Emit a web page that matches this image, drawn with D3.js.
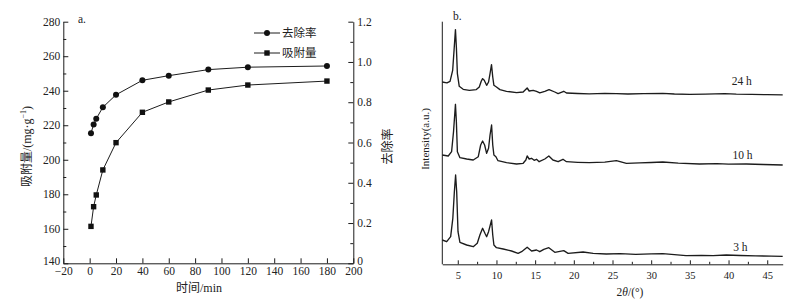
<!DOCTYPE html>
<html>
<head>
<meta charset="utf-8">
<script src="https://cdn.jsdelivr.net/npm/d3@7"></script>
<style>
  body { margin: 0; background: #fff; }
  svg { display: block; }
  text { fill: #222; }
</style>
</head>
<body>
<script>
// Datos del panel a: tiempo de contacto, eficiencia y capacidad de adsorción
const tiempos = [1, 3, 5, 10, 20, 40, 60, 90, 120, 180];
const tasaRemocion = [0.646, 0.690, 0.718, 0.775, 0.837, 0.909, 0.932, 0.962, 0.974, 0.980];
const capacidad = [161.4, 172.8, 179.6, 194.1, 209.9, 227.5, 233.5, 240.4, 243.3, 245.6];

const ticksTiempo = [-20, 0, 20, 40, 60, 80, 100, 120, 140, 160, 180, 200];
const ticksCapacidad = [140, 160, 180, 200, 220, 240, 260, 280];
const ticksRemocion = [0, 0.2, 0.4, 0.6, 0.8, 1.0, 1.2];

// Datos del panel b: difractogramas [2θ, intensidad] (ya desplazados)
const xrd24h = [[3.0,182.3],[3.6,181.5],[4.0,183],[4.34,194],[4.52,214],[4.7,234.7],[4.82,217],[4.95,190.7],[5.19,178],[5.7,175],[6.5,174],[7.4,174.7],[7.78,177.3],[8.03,183],[8.21,185.7],[8.42,184],[8.73,179],[8.98,182.3],[9.17,190.7],[9.36,199.7],[9.52,187.3],[9.67,179],[10.0,177.3],[10.45,174.7],[11.3,173],[12.6,171.7],[13.45,172.3],[13.97,176.3],[14.23,173.3],[14.74,174],[15.18,173],[15.6,171.5],[16.25,173],[16.8,174.7],[17.54,172.3],[17.97,170.7],[18.7,173],[19.05,171.3],[20.5,170.8],[22.0,170.4],[24.0,170.9],[25.5,170.6],[27.0,170.3],[29.0,170.6],[31.5,171.0],[33.0,170.3],[35.0,170.0],[37.0,170.2],[39.5,170.6],[41.0,170.1],[43.0,169.9],[45.0,169.6],[47.0,169.5]];
const xrd10h = [[3.0,109.3],[3.77,108.3],[4.2,112.6],[4.45,132.6],[4.7,160],[4.82,142.6],[4.95,112.6],[5.28,106.6],[6.15,105.3],[7.0,104.3],[7.65,107.6],[7.96,119.3],[8.21,123.3],[8.47,119.3],[8.73,111],[8.98,116],[9.17,129.3],[9.37,139.3],[9.52,119.3],[9.67,109.3],[9.93,107.6],[10.2,103.6],[11.3,101.6],[12.6,100.3],[13.45,101],[13.8,104.3],[13.97,108.3],[14.23,105.3],[14.54,106],[14.87,104],[15.18,105],[15.52,102.6],[16.25,105.3],[16.77,108.3],[17.3,104.3],[17.97,102.6],[18.6,105],[19.05,102.6],[20.5,102],[22.0,101.6],[24.0,102.2],[25.5,103.6],[26.8,101],[28.5,101.5],[30.0,101.8],[31.5,102.3],[33.5,101.2],[36.25,100.3],[38.5,100.6],[40.0,100.2],[42.3,100.3],[44.5,99.8],[47.0,99.3]];
const xrd3h = [[3.0,24.3],[3.57,22.6],[4.08,27.6],[4.36,46],[4.56,72.6],[4.72,89.3],[4.86,72.6],[5.03,32.6],[5.28,22],[6.15,19.3],[7.0,17.6],[7.52,21],[7.86,29.3],[8.21,36],[8.51,31],[8.73,27.6],[8.98,32.6],[9.17,38.3],[9.37,44.3],[9.52,29.3],[9.67,19.3],[10.0,16.6],[10.87,15.3],[11.95,13.3],[12.8,11],[13.25,12.6],[13.97,17],[14.54,13.3],[15.18,14.3],[15.6,12.6],[16.12,15],[16.77,16.6],[17.54,12],[18.7,13.6],[19.26,11],[21.2,12.3],[22.5,11],[24.2,10.3],[26.0,10.6],[28.0,10],[30.0,10.4],[31.5,10.6],[33.0,9.6],[34.5,8.6],[36.5,8.8],[38.0,8.6],[39.7,9.3],[41.5,8.8],[43.5,8.4],[45.5,8.2],[47.0,8]];
const nombresSeries = ["24 h", "10 h", "3 h"];
const ticks2theta = [5, 10, 15, 20, 25, 30, 35, 40, 45];

// Constantes de la visualización
const WIDTH = 810;
const HEIGHT = 306;
const SERIF = "'Liberation Serif', 'Times New Roman', serif";
const CJK = "'Noto Sans CJK SC', sans-serif";
const TINTA = "#1c1c1c";

const svg = d3.select("body")
  .append("svg")
  .attr("width", WIDTH)
  .attr("height", HEIGHT);

svg.append("rect").attr("width", WIDTH).attr("height", HEIGHT).attr("fill", "#fff");

// ---------------- Panel a ----------------
const A = { left: 63.3, right: 353.3, top: 21.7, bottom: 263.3 };

const escalaTiempo = d3.scaleLinear().domain([-20, 200]).range([A.left, A.right]);
const escalaCap = d3.scaleLinear().domain([140, 280]).range([A.bottom, A.top]);
const escalaRem = d3.scaleLinear().domain([0, 1.2]).range([A.bottom, A.top]);

const panelA = svg.append("g");

function estilizarEje(g, tam) {
  g.select(".domain").attr("stroke", TINTA).attr("stroke-width", 1);
  g.selectAll(".tick line").attr("stroke", TINTA);
  g.selectAll("text").attr("font-family", SERIF).attr("font-size", tam).attr("fill", "#222");
}

// eje X
panelA.append("g")
  .attr("transform", `translate(0, ${A.bottom})`)
  .call(d3.axisBottom(escalaTiempo).tickValues(ticksTiempo).tickSizeInner(-5).tickSizeOuter(0).tickPadding(4))
  .call(g => estilizarEje(g, 11.5));

// eje Y izquierdo (menores + mayores)
panelA.append("g")
  .attr("transform", `translate(${A.left}, 0)`)
  .call(d3.axisLeft(escalaCap).tickValues(d3.range(150, 280, 20)).tickSizeInner(-3).tickSizeOuter(0).tickFormat(""))
  .call(g => { g.select(".domain").remove(); g.selectAll("line").attr("stroke", TINTA); });
panelA.append("g")
  .attr("transform", `translate(${A.left}, 0)`)
  .call(d3.axisLeft(escalaCap).tickValues(ticksCapacidad).tickSizeInner(-5).tickSizeOuter(0).tickPadding(3))
  .call(g => estilizarEje(g, 11.5))
  .call(g => g.selectAll(".tick text").filter(d => d === 140).attr("dy", "0.1em"));

// eje Y derecho
panelA.append("g")
  .attr("transform", `translate(${A.right}, 0)`)
  .call(d3.axisRight(escalaRem).tickValues(d3.range(0.1, 1.2, 0.2)).tickSizeInner(-3).tickSizeOuter(0).tickFormat(""))
  .call(g => { g.select(".domain").remove(); g.selectAll("line").attr("stroke", TINTA); });
panelA.append("g")
  .attr("transform", `translate(${A.right}, 0)`)
  .call(d3.axisRight(escalaRem).tickValues(ticksRemocion).tickSizeInner(-5).tickSizeOuter(0).tickPadding(4)
    .tickFormat(d => d === 0 ? "0" : d3.format(".1f")(d)))
  .call(g => estilizarEje(g, 11.5))
  .call(g => g.selectAll(".tick text").filter(d => d === 0).attr("dy", "0.1em"));

// series
const datosRem = tiempos.map((t, i) => ({ t, v: tasaRemocion[i] }));
const datosCap = tiempos.map((t, i) => ({ t, v: capacidad[i] }));

panelA.append("path")
  .datum(datosRem)
  .attr("fill", "none").attr("stroke", TINTA).attr("stroke-width", 1)
  .attr("d", d3.line().x(d => escalaTiempo(d.t)).y(d => escalaRem(d.v)));
panelA.append("path")
  .datum(datosCap)
  .attr("fill", "none").attr("stroke", TINTA).attr("stroke-width", 1)
  .attr("d", d3.line().x(d => escalaTiempo(d.t)).y(d => escalaCap(d.v)));

panelA.selectAll("circle.rem")
  .data(datosRem)
  .join("circle")
  .attr("class", "rem")
  .attr("cx", d => escalaTiempo(d.t))
  .attr("cy", d => escalaRem(d.v))
  .attr("r", 3)
  .attr("fill", "#111");

const LADO = 5.4;
panelA.selectAll("rect.cap")
  .data(datosCap)
  .join("rect")
  .attr("class", "cap")
  .attr("x", d => escalaTiempo(d.t) - LADO / 2)
  .attr("y", d => escalaCap(d.v) - LADO / 2)
  .attr("width", LADO)
  .attr("height", LADO)
  .attr("fill", "#111");

// leyenda
const leyenda = panelA.append("g").attr("transform", "translate(254, 33)");
[["去除率", "circle"], ["吸附量", "square"]].forEach(([nombre, forma], i) => {
  const g = leyenda.append("g").attr("transform", `translate(0, ${i * 20})`);
  g.append("line").attr("x1", 0).attr("x2", 26).attr("stroke", TINTA);
  if (forma === "circle") {
    g.append("circle").attr("cx", 13).attr("r", 3).attr("fill", "#111");
  } else {
    g.append("rect").attr("x", 13 - LADO / 2).attr("y", -LADO / 2).attr("width", LADO).attr("height", LADO).attr("fill", "#111");
  }
  g.append("text").attr("x", 28).attr("dy", "0.36em")
    .attr("font-family", CJK).attr("font-size", 11.5).text(nombre);
});

// títulos
panelA.append("text").attr("x", 78).attr("y", 22.5)
  .attr("font-family", SERIF).attr("font-size", 11.5).text("a.");

panelA.append("text")
  .attr("x", 199).attr("y", 292)
  .attr("text-anchor", "middle")
  .attr("font-size", 12)
  .call(t => {
    t.append("tspan").attr("font-family", CJK).text("时间");
    t.append("tspan").attr("font-family", SERIF).text("/min");
  });

panelA.append("text")
  .attr("transform", "translate(31, 146.5) rotate(-90)")
  .attr("text-anchor", "middle")
  .attr("font-size", 12)
  .call(t => {
    t.append("tspan").attr("font-family", CJK).text("吸附量");
    t.append("tspan").attr("font-family", SERIF).text("/(mg·g");
    t.append("tspan").attr("font-family", SERIF).attr("font-size", 8).attr("dy", -5).text("−1");
    t.append("tspan").attr("font-family", SERIF).attr("dy", 5).text(")");
  });

panelA.append("text")
  .attr("transform", "translate(392, 146.5) rotate(-90)")
  .attr("text-anchor", "middle")
  .attr("font-family", CJK).attr("font-size", 12)
  .text("去除率");

// ---------------- Panel b ----------------
const B = { left: 442.3, right: 782.7, top: 21.7, bottom: 264.3 };

const escala2t = d3.scaleLinear().domain([3, 47]).range([B.left, B.right]);
const escalaInt = d3.scaleLinear().domain([0, 242.6]).range([B.bottom, B.top]);

const panelB = svg.append("g");

panelB.append("g")
  .attr("transform", `translate(0, ${B.bottom})`)
  .call(d3.axisBottom(escala2t).tickValues(d3.range(7.5, 47, 5)).tickSizeInner(-2.5).tickSizeOuter(0).tickFormat(""))
  .call(g => { g.select(".domain").remove(); g.selectAll("line").attr("stroke", TINTA); });
panelB.append("g")
  .attr("transform", `translate(0, ${B.bottom})`)
  .call(d3.axisBottom(escala2t).tickValues(ticks2theta).tickSizeInner(-4).tickSizeOuter(0).tickPadding(7))
  .call(g => estilizarEje(g, 10.5));

panelB.append("line")
  .attr("x1", B.left).attr("x2", B.left)
  .attr("y1", B.top).attr("y2", B.bottom)
  .attr("stroke", TINTA);

const lineaXRD = d3.line().x(d => escala2t(d[0])).y(d => escalaInt(d[1]));
const series = [xrd24h, xrd10h, xrd3h];

panelB.selectAll("path.xrd")
  .data(series)
  .join("path")
  .attr("class", "xrd")
  .attr("fill", "none")
  .attr("stroke", TINTA)
  .attr("stroke-width", 1.35)
  .attr("stroke-linejoin", "round")
  .attr("d", lineaXRD);

// etiquetas de cada curva (posición en unidades de datos)
const anclaEtiqueta = [[40.4, 179.3], [40.5, 105.3], [40.6, 13.3]];
panelB.selectAll("text.serie")
  .data(nombresSeries)
  .join("text")
  .attr("class", "serie")
  .attr("x", (d, i) => escala2t(anclaEtiqueta[i][0]))
  .attr("y", (d, i) => escalaInt(anclaEtiqueta[i][1]))
  .attr("font-family", SERIF).attr("font-size", 11.5)
  .text(d => d);

panelB.append("text").attr("x", 453).attr("y", 20)
  .attr("font-family", SERIF).attr("font-size", 11.5).text("b.");

panelB.append("text")
  .attr("transform", "translate(429, 139) rotate(-90)")
  .attr("text-anchor", "middle")
  .attr("font-family", SERIF).attr("font-size", 11)
  .text("Intensity(a.u.)");

panelB.append("text")
  .attr("x", 630).attr("y", 296)
  .attr("text-anchor", "middle")
  .attr("font-family", SERIF).attr("font-size", 11.5)
  .call(t => {
    t.append("tspan").text("2");
    t.append("tspan").attr("font-style", "italic").text("θ");
    t.append("tspan").text("/(°)");
  });
</script>
</body>
</html>
